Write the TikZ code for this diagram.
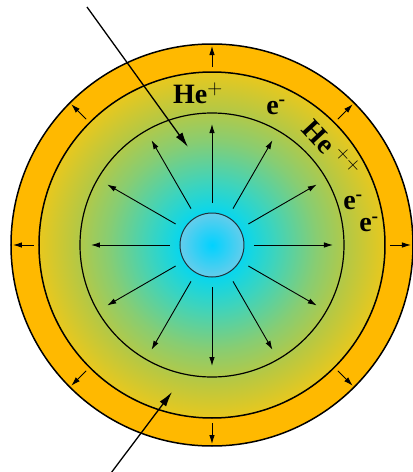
\documentclass[tikz,border=0pt]{standalone}
\usepackage{fontspec}
\setmainfont{Liberation Serif}
\usetikzlibrary{arrows.meta}

\definecolor{ringorange}{RGB}{255,185,0}
\definecolor{plasmacyan}{RGB}{0,215,245}
\definecolor{plasmateal}{RGB}{60,212,190}
\definecolor{plasmagreen}{RGB}{135,205,115}
\definecolor{plasmalime}{RGB}{185,200,65}
\definecolor{plasmagold}{RGB}{232,200,30}
\definecolor{corecyan}{RGB}{0,210,255}
\definecolor{coreedge}{RGB}{100,205,235}
\definecolor{coreline}{RGB}{30,50,60}

\pgfdeclareradialshading{plasmaglow}{\pgfpoint{0bp}{0bp}}{%
  color(0bp)=(plasmacyan); color(4bp)=(plasmacyan); color(9bp)=(plasmateal);
  color(15bp)=(plasmagreen); color(20bp)=(plasmalime);
  color(25bp)=(plasmagold); color(50bp)=(plasmagold)}
\pgfdeclareradialshading{coreglow}{\pgfpoint{0bp}{0bp}}{%
  color(0bp)=(corecyan); color(25bp)=(coreedge); color(50bp)=(coreedge)}

\begin{document}
\begin{tikzpicture}[
      x=1pt, y=1pt,
      shell/.style={draw=black, line width=1.5pt},
      ray/.style={-{Latex[length=9pt,width=5.5pt]}, line width=0.9pt},
      beam/.style={-{Latex[length=15pt,width=8pt]}, line width=1.3pt},
      chargetext/.style={font=\fontsize{28}{32}\selectfont\bfseries, inner sep=0pt}
    ]
      \useasboundingbox (-212,-227) rectangle (201,245);
      % orange shell and glowing plasma
      \fill[ringorange] (0,0) circle (201);
      \shade[shading=plasmaglow] (0,0) circle (173);
      \draw[shell] (0,0) circle (201);
      \draw[shell] (0,0) circle (173);
      \draw[line width=1.2pt] (0,0) circle (132);
      \node[circle, minimum size=64pt, shade, shading=coreglow,
            draw=coreline, line width=1pt] (core) at (0,0) {};
      % rays from the core
      \foreach \a in {0,30,...,330}
        \draw[ray] (core.center) ++(\a:42) -- ++(\a:79);
      % arrows in the outer shell
      \foreach \a in {0,45,...,315}
        \draw[ray] (core.center) ++(\a:178) -- ++(\a:21);
      % incoming beams
      \coordinate (beamin) at (-125,238);
      \coordinate (beamhit) at (-24,98);
      \coordinate (beamlow) at (-101,-228);
      \coordinate (beamtip) at (-40,-147);
      \draw[beam] (beamin) -- (beamhit);
      \draw[beam] (beamlow) -- (beamtip);
      % charges
      \node[chargetext] (heone) at (-14,152) {He$^{+}$};
      \node[chargetext] (eone) at (64,138) {e\textsuperscript{-}};
      \node[chargetext, rotate=-47] (hetwo) at (120,96) {He\,$^{++}$};
      \node[chargetext] (etwo) at (141,43) {e\textsuperscript{-}};
      \node[chargetext] (ethree) at (157,21) {e\textsuperscript{-}};
    \end{tikzpicture}
\end{document}
